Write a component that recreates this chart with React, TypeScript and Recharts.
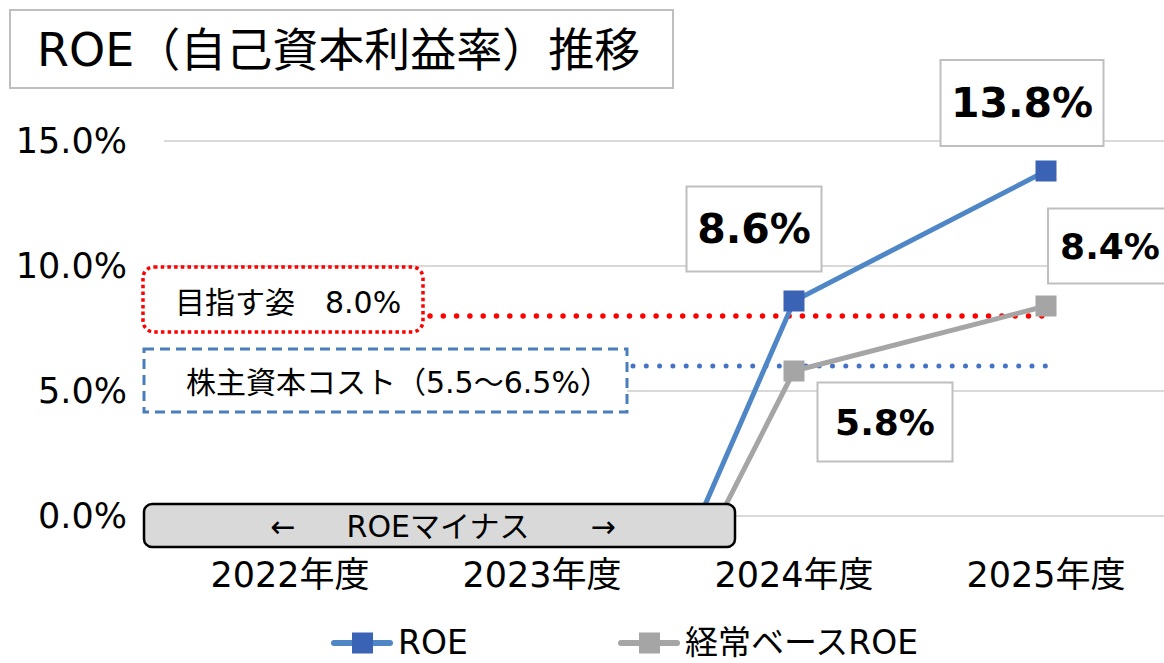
import {
  CartesianGrid,
  LabelList,
  Legend,
  Line,
  LineChart,
  ReferenceLine,
  XAxis,
  YAxis,
} from "recharts";

const categories = ["2022年度", "2023年度", "2024年度", "2025年度"];
const roeValues = [-4.0, -14.5, 8.6, 13.8];
const ordinaryRoeValues = [-3.5, -14.0, 5.8, 8.4];
const yTicks = [0, 5, 10, 15];
const targetRoe = 8.0;
const equityCostRange = [5.5, 6.5];

const data = categories.map((year, i) => ({
  year,
  roe: roeValues[i],
  ordinary: ordinaryRoeValues[i],
}));

const FONT = '"DejaVu Sans", "Noto Sans CJK JP", sans-serif';
const W = 1172;
const H = 663;
const PLOT_LEFT = 164;
const BAND = (W - PLOT_LEFT) / categories.length;
const LEGEND_H = 112;

const ROE_LINE = "#4f86c6";
const ROE_MARK = "#3a62b5";
const ORD_COLOR = "#a5a5a5";

// where each value box sits relative to its point (only the visible years are labelled)
const labelBoxes: Record<string, Record<number, { dx: number; dy: number; w: number; h: number; fs: number }>> = {
  roe: {
    2: { dx: -40, dy: -72, w: 135, h: 85, fs: 41 },
    3: { dx: -24, dy: -68, w: 163, h: 86, fs: 41 },
  },
  ordinary: {
    2: { dx: 91, dy: 51, w: 135, h: 79, fs: 36 },
    3: { dx: 64, dy: -60, w: 124, h: 75, fs: 36 },
  },
};

const pct = (v: number) => `${v.toFixed(1)}%`;

function squareDot(color: string) {
  return (props: any) => {
    const { cx, cy, index } = props;
    if (cx == null || cy == null) return <g key={index} />;
    return <rect key={index} x={cx - 10.5} y={cy - 10.5} width={21} height={21} fill={color} />;
  };
}

function valueBox(series: string) {
  return (props: any) => {
    const { x, y, value, index } = props;
    const box = labelBoxes[series][index];
    if (!box || x == null || y == null) return null;
    const cx = x + box.dx;
    const cy = y + box.dy;
    return (
      <g key={`${series}-${index}`}>
        <rect
          x={cx - box.w / 2}
          y={cy - box.h / 2}
          width={box.w}
          height={box.h}
          fill="#fff"
          stroke="#bfbfbf"
          strokeWidth={2}
        />
        <text
          x={cx}
          y={cy}
          textAnchor="middle"
          dominantBaseline="central"
          fontFamily={FONT}
          fontWeight="bold"
          fontSize={box.fs}
          fill="#000"
        >
          {pct(value)}
        </text>
      </g>
    );
  };
}

// dotted guide from a fixed start to the last year's point
function dottedFrom(startX: number, color: string, size: number) {
  return (props: any) => {
    const { x2, y1 } = props;
    const endX = Math.min(x2, W - BAND / 2);
    return (
      <line
        x1={startX}
        y1={y1}
        x2={endX}
        y2={y1}
        stroke={color}
        strokeWidth={size}
        strokeLinecap="round"
        strokeDasharray="0 13.3"
      />
    );
  };
}

function XTick({ x, y, payload }: any) {
  return (
    <text x={x} y={y + 51} textAnchor="middle" dominantBaseline="central" fontFamily={FONT} fontSize={35} fill="#000">
      {payload.value}
    </text>
  );
}

function LegendContent({ payload }: any) {
  const items = payload ?? [];
  return (
    <div style={{ height: LEGEND_H, width: 1164, position: "relative", fontFamily: FONT }}>
      {items.map((p: any, i: number) => {
        const mark = p.dataKey === "roe" ? ROE_MARK : ORD_COLOR;
        return (
          <div
            key={p.value}
            style={{
              position: "absolute",
              left: i === 0 ? 331 : 618,
              top: 74,
              display: "flex",
              alignItems: "center",
              height: 36,
            }}
          >
            <svg width={62} height={24}>
              <line x1={3} y1={12} x2={59} y2={12} stroke={p.color} strokeWidth={6} strokeLinecap="round" />
              <rect x={21} y={1.5} width={21} height={21} fill={mark} />
            </svg>
            <span style={{ fontSize: 33, lineHeight: "36px", color: "#000", marginLeft: 5, whiteSpace: "nowrap" }}>
              {p.value}
            </span>
          </div>
        );
      })}
    </div>
  );
}

export default function App() {
  const costMid = (equityCostRange[0] + equityCostRange[1]) / 2;
  return (
    <div style={{ position: "absolute", left: 0, top: 0, width: 1164, height: H, overflow: "hidden", background: "#fff" }}>
      <LineChart width={W} height={H} data={data} margin={{ top: 141, right: 0, bottom: 0, left: 0 }}>
        <CartesianGrid vertical={false} stroke="#d9d9d9" strokeWidth={2} />
        <XAxis
          dataKey="year"
          axisLine={false}
          tickLine={false}
          height={H - 141 - 375 - LEGEND_H}
          tick={<XTick />}
          interval={0}
          padding={{ left: BAND / 2, right: BAND / 2 }}
        />
        <YAxis
          width={PLOT_LEFT}
          domain={[0, 15]}
          ticks={yTicks}
          allowDataOverflow
          axisLine={false}
          tickLine={false}
          tickSize={0}
          tickMargin={37}
          tickFormatter={pct}
          tick={{ fontSize: 35, fill: "#000", fontFamily: FONT }}
        />
        <ReferenceLine y={targetRoe} ifOverflow="visible" shape={dottedFrom(430, "#ff0000", 5.5)} />
        <ReferenceLine y={costMid} ifOverflow="visible" shape={dottedFrom(633, "#4472c4", 5)} />
        <Line
          dataKey="roe"
          name="ROE"
          stroke={ROE_LINE}
          strokeWidth={5}
          dot={squareDot(ROE_MARK)}
          activeDot={false}
          isAnimationActive={false}
        >
          <LabelList dataKey="roe" content={valueBox("roe")} />
        </Line>
        <Line
          dataKey="ordinary"
          name="経常ベースROE"
          stroke={ORD_COLOR}
          strokeWidth={5}
          dot={squareDot(ORD_COLOR)}
          activeDot={false}
          isAnimationActive={false}
        >
          <LabelList dataKey="ordinary" content={valueBox("ordinary")} />
        </Line>
        <Legend verticalAlign="bottom" content={<LegendContent />} />
      </LineChart>

      <svg
        width={1164}
        height={H}
        style={{ position: "absolute", left: 0, top: 0, pointerEvents: "none" }}
        fontFamily={FONT}
      >
        <rect x={10} y={10} width={663} height={78} fill="#fff" stroke="#bfbfbf" strokeWidth={2} />
        <text x={37} y={50} dominantBaseline="central" fontSize={46} fill="#000">
          ROE（自己資本利益率）推移
        </text>

        <rect
          x={143}
          y={267}
          width={280}
          height={65}
          rx={11}
          fill="#fff"
          stroke="#ff0000"
          strokeWidth={3.5}
          strokeDasharray="3.5 3.2"
        />
        <text x={175} y={302} dominantBaseline="central" fontSize={30} fill="#000">
          目指す姿　{pct(targetRoe)}
        </text>

        <rect
          x={144}
          y={349}
          width={483}
          height={63}
          fill="#fff"
          stroke="#4a7ebb"
          strokeWidth={3}
          strokeDasharray="10 6"
        />
        <text x={186} y={382} dominantBaseline="central" fontSize={30} fill="#000">
          株主資本コスト（{equityCostRange[0].toFixed(1)}〜{pct(equityCostRange[1])}）
        </text>

        <rect x={144} y={504} width={591} height={43} rx={8} fill="#d9d9d9" stroke="#000" strokeWidth={2.5} />
        <text x={283} y={526} textAnchor="middle" dominantBaseline="central" fontSize={30} fill="#000">
          ←
        </text>
        <text x={438} y={526} textAnchor="middle" dominantBaseline="central" fontSize={30} fill="#000">
          ROEマイナス
        </text>
        <text x={603} y={526} textAnchor="middle" dominantBaseline="central" fontSize={30} fill="#000">
          →
        </text>
      </svg>
    </div>
  );
}
